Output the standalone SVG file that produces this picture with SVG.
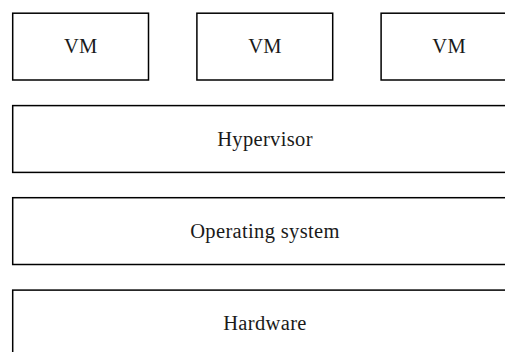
<svg xmlns="http://www.w3.org/2000/svg" width="505" height="352" viewBox="0 0 505 352">
<style>
.box{fill:#fff;stroke:#000;stroke-width:1.5}
.lbl{font-family:"Liberation Serif","DejaVu Serif",serif;font-size:20.5px;letter-spacing:0.35px;fill:#1a1a1a;text-anchor:middle}
</style>
<rect width="505" height="352" fill="#fff"/>
<g id="vm1"><rect class="box" x="12.7" y="13.2" width="135.8" height="66.8"/><text class="lbl" x="80.8" y="53.4">VM</text></g>
<g id="vm2"><rect class="box" x="196.9" y="13.2" width="135.8" height="66.8"/><text class="lbl" x="265" y="53.4">VM</text></g>
<g id="vm3"><rect class="box" x="381.1" y="13.2" width="135.8" height="66.8"/><text class="lbl" x="449.2" y="53.4">VM</text></g>
<g id="hypervisor"><rect class="box" x="12.7" y="105.6" width="504.2" height="66.8"/><text class="lbl" x="265" y="145.6">Hypervisor</text></g>
<g id="os"><rect class="box" x="12.7" y="197.7" width="504.2" height="66.8"/><text class="lbl" x="265" y="237.7">Operating system</text></g>
<g id="hardware"><rect class="box" x="12.7" y="290.1" width="504.2" height="66.8"/><text class="lbl" x="265" y="330.1">Hardware</text></g>
<g id="connectors"/>
</svg>
